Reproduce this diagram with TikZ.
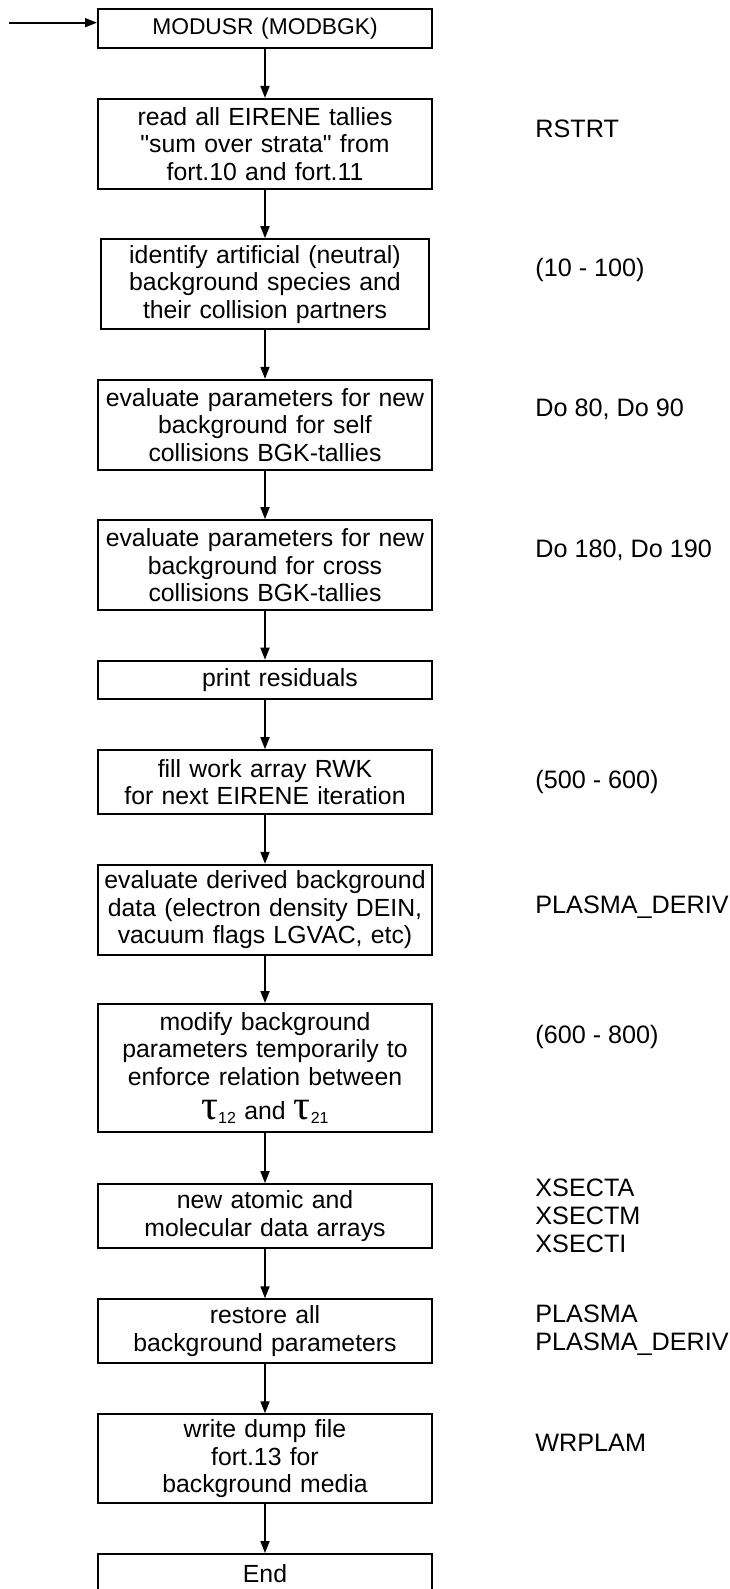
\documentclass[tikz,border=0pt]{standalone}
\usepackage{fontspec}
\setmainfont{Liberation Sans}
\newfontfamily\greekfont{Liberation Serif}
\usetikzlibrary{arrows.meta,positioning}

\newcommand{\tauidx}[1]{{\greekfont\fontsize{21}{14}\selectfont τ}\raisebox{-2pt}{\fontsize{8}{8}\selectfont #1}}

\begin{document}
\begin{tikzpicture}[x=0.5pt,y=-0.5pt,>=Latex,
step box/.style={draw,line width=1pt,text width=163pt,inner xsep=2pt,inner ysep=0pt,align=center,font=\fontsize{12.4}{13.75}\selectfont},
narrow box/.style={step box,text width=160pt},
flow/.style={-{Triangle[length=6pt,width=4.5pt]},line width=0.85pt},
side note/.style={anchor=west,align=left,inner sep=0pt,font=\fontsize{12.6}{14}\selectfont}]
\useasboundingbox (0,0) rectangle (729,1589);
% main column
\node[step box,minimum height=19.5pt,font=\fontsize{11.4}{13.75}\selectfont] (b1) at (265,28.8) {MODUSR (MODBGK)};
\node[step box,minimum height=45pt] (b2) at (265,143.9) {read all EIRENE tallies\\\textquotedbl sum over strata\textquotedbl{} from\\fort.10 and fort.11};
\node[narrow box,minimum height=45pt] (b3) at (265,284.2) {identify artificial (neutral)\\background species and\\their collision partners};
\node[step box,minimum height=45pt] (b4) at (265,424.8) {evaluate parameters for new\\background for self\\collisions BGK-tallies};
\node[step box,minimum height=45pt] (b5) at (265,565.2) {evaluate parameters for new\\background for cross\\collisions BGK-tallies};
\node[step box,minimum height=19.3pt] (b6) at (265,680) {\hspace*{15pt}print residuals};
\node[step box,minimum height=32pt] (b7) at (265,782.2) {fill work array RWK\\for next EIRENE iteration};
\node[step box,minimum height=45pt] (b8) at (265,909.8) {evaluate derived background\\data (electron density DEIN,\\vacuum flags LGVAC, etc)};
\node[step box,minimum height=64pt] (b9) at (265,1068) {modify background\\parameters temporarily to\\enforce relation between\\[3.5pt]\tauidx{12} and \tauidx{21}};
\node[step box,minimum height=32pt] (b10) at (265,1216.2) {new atomic and\\molecular data arrays};
\node[step box,minimum height=32pt] (b11) at (265,1331.3) {restore all\\background parameters};
\node[step box,minimum height=44.5pt] (b12) at (265,1458.8) {write dump file\\fort.13 for\\background media};
\node[step box,minimum height=19.5pt] (b13) at (265,1573.5) {End};
% routine names
\node[side note] (n2) at (535,129.3) {RSTRT};
\node[side note] (n3) at (535,270) {(10 - 100)};
\node[side note] (n4) at (535,409.3) {Do 80, Do 90};
\node[side note] (n5) at (535,550) {Do 180, Do 190};
\node[side note] (n7) at (535,781.7) {(500 - 600)};
\node[side note] (n8) at (535,907.3) {PLASMA\_DERIV};
\node[side note] (n9) at (535,1036.7) {(600 - 800)};
\node[side note] (n10) at (535,1216) {XSECTA\\XSECTM\\XSECTI};
\node[side note] (n11) at (535,1330.5) {PLASMA\\PLASMA\_DERIV};
\node[side note] (n12) at (535,1443.3) {WRPLAM};
% connectors
\coordinate (entry) at (9,22.7);
\draw[flow] (entry) -- (entry -| b1.west);
\foreach \i [evaluate=\i as \j using int(\i+1)] in {1,...,12}
  \draw[flow] (b\i) -- (b\j);
\end{tikzpicture}
\end{document}
